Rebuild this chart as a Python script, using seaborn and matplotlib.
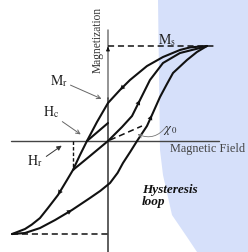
import numpy as np
import pandas as pd
import matplotlib
matplotlib.use("Agg")
import matplotlib.pyplot as plt
import seaborn as sns
from matplotlib.patches import Polygon

sns.set_theme(style="white")
plt.rcParams['font.family'] = ['Liberation Serif', 'DejaVu Serif']
plt.rcParams['mathtext.fontset'] = 'stix'

# ---- data (normalised field H and magnetisation M, Ms = 1) ----
desc_H = [1.026, 0.850, 0.746, 0.570, 0.404, 0.228, 0.124, 0.0, -0.114, -0.218, -0.290,
          -0.363, -0.425, -0.518, -0.622, -0.705, -0.790, -0.860, -0.995]
desc_M = [1.0, 0.985, 0.958, 0.884, 0.789, 0.642, 0.537, 0.40, 0.20, 0.0, -0.147,
          -0.305, -0.411, -0.568, -0.705, -0.811, -0.880, -0.926, -0.979]

asc_H = [-0.995, -0.860, -0.705, -0.549, -0.373, -0.187, -0.080, 0.021, 0.100, 0.155,
         0.230, 0.301, 0.404, 0.456, 0.539, 0.611, 0.674, 0.819, 0.922, 1.026]
asc_M = [-0.979, -0.968, -0.916, -0.832, -0.726, -0.600, -0.525, -0.442, -0.335, -0.232,
         -0.115, 0.0, 0.158, 0.274, 0.463, 0.600, 0.716, 0.853, 0.937, 1.0]

rec_H = [-0.363, -0.187, 0.0, 0.145, 0.249, 0.332, 0.435, 0.570, 0.746, 0.953, 1.026]
rec_M = [-0.305, -0.158, 0.0, 0.147, 0.263, 0.432, 0.642, 0.821, 0.926, 0.979, 1.0]

seg_H = [-0.218, 0.0]
seg_M = [0.0, 0.189]

chi_H = [0.02, 0.352]
chi_M = [0.01, 0.158]

Ms = 1.0
Mmin = -0.979
Hmin = -0.995
Hr = -0.363
Mr_at_Hr = -0.305

# ---- figure ----
fig = plt.figure(figsize=(2.48, 2.52), dpi=100)
ax = fig.add_axes([0, 0, 1, 1])
ax.set_xlim(-1.119, 1.451)
ax.set_ylim(-1.168, 1.484)
ax.axis('off')

# light blue background band (axes fractions)
bg = Polygon([(158/248, 1), (1, 1), (1, 0), (197/248, 0), (187/248, 15/252),
              (172/248, 37/252), (163/248, 77/252), (160/248, 102/252)],
             closed=True, transform=ax.transAxes, facecolor='#d6e0fa',
             edgecolor='none', zorder=0)
ax.add_patch(bg)

# axes lines
ax.plot([0, 0], [1.169, 0.45], color='#777777', lw=1.1, zorder=1)
ax.plot([0, 0], [0.45, -1.168], color='#333333', lw=1.1, zorder=1)
ax.plot([-1.0, 1.15], [0, 0], color='#444444', lw=1.0, zorder=1)

lw = 1.5
curves = pd.concat([
    pd.DataFrame({'H': desc_H, 'M': desc_M, 'c': 'desc'}),
    pd.DataFrame({'H': asc_H, 'M': asc_M, 'c': 'asc'}),
    pd.DataFrame({'H': rec_H, 'M': rec_M, 'c': 'rec'}),
    pd.DataFrame({'H': seg_H, 'M': seg_M, 'c': 'seg'}),
])
sns.lineplot(data=curves, x='H', y='M', units='c', estimator=None, sort=False,
             color='#111111', lw=lw, ax=ax, zorder=3, legend=False)

# dashed guides
dash = dict(color='#111111', lw=1.1, ls=(0, (4, 2.5)), zorder=2)
sns.lineplot(x=chi_H, y=chi_M, ax=ax, estimator=None, sort=False, **dash)
ax.plot([0.0, 1.13], [Ms, Ms], **dash)
ax.plot([Hmin, 0.0], [Mmin, Mmin], **dash)
ax.plot([Hr, Hr], [0, Mr_at_Hr], color='#111111', lw=1.0, ls=(0, (2.5, 1.5)), zorder=2)
ax.annotate('', xy=(0, Ms + 0.02), xytext=(0, Ms - 0.06),
            arrowprops=dict(arrowstyle='-|>', color='#111111', lw=0.8, mutation_scale=5))

# direction arrows on curves
def dir_arrow(hs, ms, i):
    xy = (hs[i], ms[i])
    xt = (0.5 * (hs[i - 1] + hs[i]), 0.5 * (ms[i - 1] + ms[i]))
    ax.annotate('', xy=xy, xytext=xt,
                arrowprops=dict(arrowstyle='-|>', color='#111111', lw=0.0,
                                mutation_scale=9, shrinkA=0, shrinkB=0), zorder=4)

dir_arrow(desc_H, desc_M, 6)
dir_arrow(desc_H, desc_M, 13)
dir_arrow(asc_H, asc_M, 4)
dir_arrow(asc_H, asc_M, 13)
dir_arrow(rec_H, rec_M, 5)

# annotation pointers
thin = dict(arrowstyle='->', color='#666666', lw=0.7, mutation_scale=7)
ax.annotate('', xy=(-0.041, 0.432), xytext=(-0.415, 0.60), arrowprops=thin)
ax.annotate('', xy=(-0.259, 0.053), xytext=(-0.497, 0.221), arrowprops=thin)
ax.annotate('', xy=(-0.456, -0.032), xytext=(-0.663, -0.179),
            arrowprops=dict(arrowstyle='-|>', color='#333333', lw=0.7, mutation_scale=7))
ax.annotate('', xy=(0.28, 0.084), xytext=(0.622, 0.179),
            arrowprops=dict(arrowstyle='->', color='#777777', lw=0.6, mutation_scale=7,
                            connectionstyle='arc3,rad=-0.45'))

# labels
tc = '#222222'
ax.text(-0.109, 1.063, 'Magnetization', rotation=90, ha='center', va='center',
        fontsize=8.3, color='#333333')
ax.text(0.518, 1.021, r'$\mathrm{M}_{\mathrm{s}}$', fontsize=10, color=tc,
        ha='left', va='baseline')
ax.text(-0.601, 0.589, r'$\mathrm{M}_{\mathrm{r}}$', fontsize=10, color=tc,
        ha='left', va='baseline')
ax.text(-0.674, 0.263, r'$\mathrm{H}_{\mathrm{c}}$', fontsize=10, color=tc,
        ha='left', va='baseline')
ax.text(-0.839, -0.253, r'$\mathrm{H}_{\mathrm{r}}$', fontsize=10, color=tc,
        ha='left', va='baseline')
ax.text(0.570, 0.095, r'$\chi_{\,0}$', fontsize=9, color=tc, ha='left', va='baseline')
ax.text(0.642, -0.116, 'Magnetic Field', fontsize=8.8, color='#444444',
        ha='left', va='baseline')
ax.text(0.352, -0.547, 'Hysteresis', fontsize=9.5, style='italic', weight='bold',
        color='#111111', ha='left', va='baseline')
ax.text(0.352, -0.674, 'loop', fontsize=9.5, style='italic', weight='bold',
        color='#111111', ha='left', va='baseline')

fig.savefig('out.png', dpi=100, facecolor='white')
